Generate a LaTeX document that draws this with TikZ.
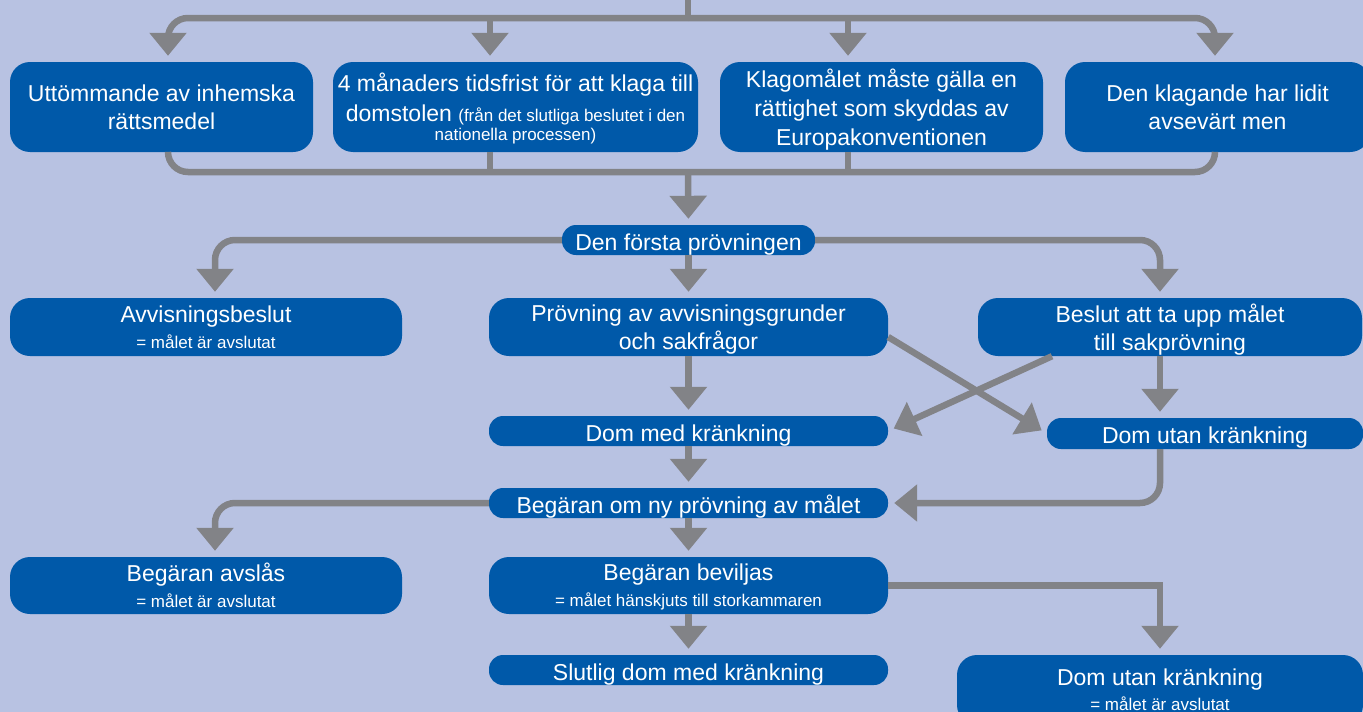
\documentclass[tikz,border=0pt]{standalone}
\usepackage{fontspec}
\setmainfont{Liberation Sans}
\usetikzlibrary{arrows.meta}
\definecolor{bgLav}{HTML}{B8C2E2}
\definecolor{boxBlue}{HTML}{0059A9}
\definecolor{lineGray}{HTML}{828387}
\newcommand{\lit}{\fontsize{17}{18}\selectfont}

\begin{document}
\begin{tikzpicture}[x=1pt, y=-1pt,
		box/.style={fill=boxBlue, text=white, rounded corners=20pt, align=center, inner sep=0pt, text depth=0pt, font=\fontsize{23}{28}\selectfont},
		box2/.style={box, text depth=-4pt},
		bar/.style={box, rounded corners=14pt, text height=20pt},
		link/.style={draw=lineGray, line width=6.5pt, rounded corners=20pt},
		>={Triangle[width=36pt,length=23pt]},
		tip/.style={->, shorten >=6pt}]
					\useasboundingbox (0,0) rectangle (1363,712);
					\fill[bgLav] (0,0) rectangle (1363,712);

					\node[box2, minimum width=303pt, minimum height=90pt] (uttom) at (161.5,107) {Uttömmande av inhemska\\rättsmedel};
					\node[box2, minimum width=365pt, minimum height=90pt] (tidsfrist) at (515.5,107) {4 månaders tidsfrist för att klaga till\\[2pt]domstolen {\lit(från det slutliga beslutet i den}\\[-9pt]{\lit nationella processen)}};
					\node[box, minimum width=323pt, minimum height=90pt] (klagomal) at (881.5,107) {Klagomålet måste gälla en\\[1pt]rättighet som skyddas av\\[1pt]Europakonventionen};
					\node[box2, minimum width=305pt, minimum height=90pt] (men) at (1217.5,107) {Den klagande har lidit\\avsevärt men};

					\node[bar, minimum width=253pt, minimum height=30pt] (forsta) at (688.5,240) {Den första prövningen};

					\node[box2, minimum width=392pt, minimum height=58pt] (avvis) at (206,327) {Avvisningsbeslut\\[-2pt]{\lit = målet är avslutat}};
					\node[box2, minimum width=399pt, minimum height=58pt] (provning) at (688.5,327) {Prövning av avvisningsgrunder\\och sakfrågor};
					\node[box2, minimum width=384pt, minimum height=58pt] (beslut) at (1170,327) {Beslut att ta upp målet\\till sakprövning};

					\node[bar, minimum width=399pt, minimum height=30pt] (domMed) at (688.5,431) {Dom med kränkning};
					\node[bar, minimum width=316pt, minimum height=31pt] (domUtan) at (1205,433.5) {Dom utan kränkning};

					\node[bar, minimum width=399pt, minimum height=30pt] (begaran) at (688.5,503) {Begäran om ny prövning av målet};

					\node[box2, minimum width=392pt, minimum height=57pt] (avslas) at (206,585.5) {Begäran avslås\\[-2pt]{\lit = målet är avslutat}};
					\node[box2, minimum width=399pt, minimum height=57pt] (beviljas) at (688.5,585.5) {Begäran beviljas\\[-2pt]{\lit = målet hänskjuts till storkammaren}};

					\node[bar, minimum width=399pt, minimum height=30pt] (slutlig) at (688.5,670) {Slutlig dom med kränkning};
					\node[box, minimum width=406pt, minimum height=70pt] (domUtanSlut) at (1160,690) {Dom utan kränkning\\[-3pt]{\lit = målet är avslutat}};

					\coordinate (top) at (688,0);
					\coordinate (topbar) at (688,18);
					\coordinate (botbar) at (688,172);

					\draw[link] (top) -- (topbar);
					\draw[link, tip] (topbar) -| ([xshift=6.5pt]uttom.north);
					\draw[link, tip] (topbar) -| ([xshift=-2.5pt]men.north);
					\draw[link, tip] ([xshift=-25.5pt]tidsfrist.north |- topbar) -- ([xshift=-25.5pt]tidsfrist.north);
					\draw[link, tip] ([xshift=-33.5pt]klagomal.north |- topbar) -- ([xshift=-33.5pt]klagomal.north);

					\draw[link] ([xshift=6.5pt]uttom.south) |- (botbar) -| ([xshift=-2.5pt]men.south);
					\draw[link] ([xshift=-25.5pt]tidsfrist.south) -- ([xshift=-25.5pt]tidsfrist.south |- botbar);
					\draw[link] ([xshift=-33.5pt]klagomal.south) -- ([xshift=-33.5pt]klagomal.south |- botbar);
					\draw[link, tip] (botbar) -- (forsta.north);

					\draw[link, tip] (forsta.west) -| ([xshift=9pt]avvis.north);
					\draw[link, tip] (forsta.east) -| ([xshift=-10pt]beslut.north);
					\draw[link, tip] (forsta.south) -- (provning.north);

					\draw[link, tip] (provning.south) -- (domMed.north);
					\draw[link, tip] ([yshift=-10pt]provning.east) -- (domUtan.west);
					\draw[link, tip] ([xshift=-118pt]beslut.south) -- (domMed.east);
					\draw[link, tip] ([xshift=-10pt]beslut.south) -- ([xshift=-45pt]domUtan.north);

					\draw[link, tip] (domMed.south) -- (begaran.north);
					\draw[link, tip] ([xshift=-45pt]domUtan.south) |- (begaran.east);

					\draw[link, tip] (begaran.west) -| ([xshift=9pt]avslas.north);
					\draw[link, tip] (begaran.south) -- (beviljas.north);

					\draw[link, tip, sharp corners] (beviljas.east) -| (domUtanSlut.north);
					\draw[link, tip] (beviljas.south) -- (slutlig.north);

\end{tikzpicture}
\end{document}
